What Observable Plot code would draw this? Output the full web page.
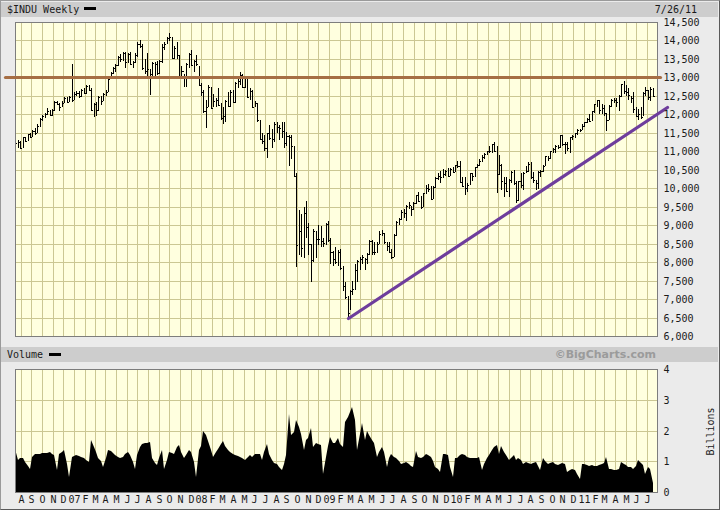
<!DOCTYPE html>
<html><head><meta charset="utf-8">
<script src="https://cdn.jsdelivr.net/npm/d3@7"></script>
<script src="https://cdn.jsdelivr.net/npm/@observablehq/plot@0.6"></script>
<style>
body{margin:0;background:#ebebeb;}
#wrap{position:relative;width:720px;height:510px;background:#ebebeb;overflow:hidden;font-family:"DejaVu Sans Mono",monospace;font-size:10px;color:#1a1a1a;}
.bar{position:absolute;left:1px;width:717px;height:15px;background:#cdcdcd;}
.t{position:absolute;line-height:15px;white-space:nowrap;}
.sw{position:absolute;width:12px;height:3px;background:#000;}
#price,#volume{position:absolute;left:0;}
#price{top:0}
#volume{top:360px}
#border{position:absolute;left:0;top:0;width:720px;height:510px;box-sizing:border-box;border:1px solid #9a9a9a;border-right-color:#5a5a5a;border-bottom-color:#5a5a5a;pointer-events:none;}
</style></head>
<body><div id="wrap">
 <div class="bar" style="top:2px"></div>
 <div class="t" style="top:2px;left:7px">$INDU Weekly</div>
 <div class="sw" style="top:7px;left:84px"></div>
 <div class="t" style="top:2px;right:23px">7/26/11</div>
 <div class="bar" style="top:347px"></div>
 <div class="t" style="top:347px;left:7px">Volume</div>
 <div class="sw" style="top:353px;left:49px"></div>
 <div class="t" style="top:347px;right:64px;font-family:'DejaVu Sans',sans-serif;font-weight:bold;color:#9b9b9b;font-size:11px">©BigCharts.com</div>
 <div id="price"></div><div id="volume"></div>
 <div class="t" style="top:424px;left:681px;width:58px;text-align:center;transform:rotate(-90deg)">Billions</div>
 <div id="border"></div>
</div>
<script>
// ---- data ----
const firstWeek = "2006-07-17"; // weekly bars, one per week
const highs = [
 11250,11300,11270,11400,11400,11480,11500,11580,11630,11730,11900,11990,12050,12170,12130,12150,12360,12350,12310,12350,12470,12480,12510,
 13350,12600,12620,12630,12680,12700,12790,12800,12700,12320,12330,12500,12500,12580,12650,12980,13150,13290,13350,13570,13630,13700,13700,13660,13700,13450,13650,13950,14020,13900,13500,13660,13240,13420,13420,13450,13480,13900,13950,14100,14200,14100,13850,13950,13600,13300,13100,13400,13650,13750,13480,13600,
 13300,12850,12650,12400,12800,12750,12550,12450,12700,12300,12200,12400,12600,12650,12650,12870,12950,13140,13080,13030,13030,12700,12660,12350,12300,11850,11500,11450,11500,11700,11600,11780,11800,11700,11800,11800,11530,11450,11450,11150,10400,9400,9300,9500,9650,9050,8500,8900,8850,9000,8980,8650,
 9050,9100,8650,8300,8400,8330,8350,7900,7450,7080,7250,7500,7950,8050,8150,8200,8100,8250,8600,8600,8550,8550,8850,8880,8800,8550,8550,8350,8760,9100,9200,9400,9440,9550,9620,9520,9640,9830,9900,9800,9880,10100,10120,10050,10060,10300,10420,10480,10520,10500,10550,10550,10580,
 10640,10730,10730,10300,10300,10150,10410,10420,10580,10650,10800,10900,10950,11010,11150,11210,11260,11150,10900,10650,10300,10300,10250,10480,10500,10200,10200,10400,10440,10600,10720,10700,10450,10230,10460,10500,10620,10870,10880,11020,11100,11160,11180,11450,11450,11250,11250,11400,11450,11500,11600,11600,
 11750,11800,11900,12020,12100,12280,12400,12380,12280,12250,12050,12250,12420,12450,12450,12520,12820,12900,12800,12700,12500,12600,12200,12150,12200,12600,12750,12650,12750,12700
];
const lows = [
 10860,11100,11050,11080,11250,11280,11350,11380,11450,11500,11650,11830,11900,11990,11950,11950,12100,12250,12080,12200,12300,12310,12340,
 12340,12400,12500,12430,12480,12560,12550,12620,12080,11930,11950,12100,12250,12350,12500,12600,12950,13100,13150,13300,13430,13450,13250,13400,13350,13250,13400,13550,13800,13200,13100,12980,12520,13000,13000,13060,13100,13400,13750,13900,13990,13500,13500,13500,13000,12950,12750,12750,13250,13300,13150,13300,
 12780,12500,12050,11630,12200,12150,12200,12200,12250,11850,11740,11800,12200,12200,12300,12300,12700,12800,12750,12700,12450,12400,12180,12200,11800,11330,11200,11000,10830,11300,11100,11250,11500,11300,11350,11100,11150,10600,10800,10300,7880,8200,8150,8100,8650,8200,7450,8000,8100,8450,8400,8400,
 8450,8550,7950,7900,7950,7900,7800,7230,7000,6470,6700,7120,7250,7450,7800,7950,7800,7950,8200,8200,8200,8250,8500,8700,8500,8300,8250,8080,8140,8700,9000,9150,9200,9100,9450,9250,9400,9570,9650,9430,9480,9850,9900,9700,9700,10000,10230,10150,10280,10320,10300,10320,10420,
 10430,10560,10150,10050,9830,9900,10080,10200,10300,10540,10600,10700,10800,10900,10950,10950,11000,9870,10350,9950,9770,9900,9750,10150,10100,9610,9650,10000,9950,10400,10450,10250,10150,9940,9980,10300,10450,10600,10750,10780,10950,10950,11050,11100,11150,10930,11000,10950,11300,11350,11450,11520,
 11570,11650,11770,11800,11820,12050,12200,12000,12000,11950,11550,11850,12200,12300,12200,12100,12480,12550,12500,12400,12300,12050,11950,11860,11870,11950,12500,12400,12350,12480
];
const closes = [
 11219,11240,11088,11381,11284,11464,11392,11560,11508,11679,11866,11961,12002,12090,11986,12108,12342,12280,12194,12307,12445,12343,12463,
 12398,12556,12565,12487,12653,12580,12767,12647,12114,12276,12110,12481,12354,12560,12612,12962,13120,13264,13326,13556,13507,13668,13424,13639,13360,13409,13612,13908,13851,13265,13182,13240,13079,13379,13358,13113,13442,13821,13896,14066,14093,13522,13807,13595,13043,13177,12981,13372,13625,13339,13450,13366,
 12800,12606,12099,12207,12743,12182,12348,12381,12266,11894,11951,12361,12216,12609,12325,12849,12891,13058,12745,12986,12480,12638,12209,12307,11843,11346,11288,11100,11496,11370,11326,11734,11659,11628,11543,11220,11421,11388,11143,10325,8451,8852,8378,9325,8943,8497,8046,8829,8635,8629,8579,8515,
 9034,8599,8281,8077,8000,8280,7850,7366,7063,6627,7224,7279,7776,8018,8083,8131,8076,8212,8575,8268,8277,8500,8764,8799,8539,8438,8280,8146,8743,9093,9172,9370,9321,9506,9544,9441,9606,9820,9665,9488,9865,9996,9972,9713,10023,10270,10319,10310,10389,10471,10329,10520,10428,
 10618,10610,10172,10067,10012,10099,10402,10325,10567,10625,10742,10851,10927,10997,11018,11204,11009,10380,10620,10193,10137,9932,10212,10450,10144,9686,10198,10098,10424,10466,10653,10303,10213,10150,10448,10463,10608,10860,10830,11006,11062,11133,11118,11444,11192,11203,11092,11382,11410,11491,11573,11577,
 11674,11787,11871,11823,12092,12273,12391,12130,12170,12044,11859,12221,12377,12380,12342,12505,12810,12638,12596,12512,12441,12151,11952,12004,11934,12582,12657,12480,12681,12501
];
const volumes = [ // billions
 1.41,1.05,1.12,1.10,0.98,0.85,0.76,1.15,1.22,1.25,
 1.24,1.27,1.28,1.26,1.30,1.22,1.20,0.71,1.25,1.30,
 1.36,0.92,0.49,1.14,1.18,1.20,1.16,1.14,1.12,1.05,
 0.98,1.70,1.47,1.30,1.09,1.00,0.82,1.10,1.36,1.32,
 1.28,1.20,1.15,1.09,1.15,1.25,1.30,1.20,0.98,0.76,
 1.20,1.47,1.55,1.58,1.60,1.61,1.09,0.95,0.87,1.10,
 1.36,0.76,1.05,1.30,1.28,1.25,1.45,1.52,1.30,1.09,
 1.20,1.36,1.30,0.98,0.49,1.36,1.50,2.00,1.85,1.67,
 1.35,1.14,1.30,1.41,1.55,1.67,1.50,1.36,1.30,1.25,
 1.20,1.18,1.14,1.10,1.03,1.10,1.20,1.15,1.22,1.25,
 1.25,1.03,1.30,1.55,1.25,1.03,0.95,0.92,0.80,0.71,
 0.90,1.20,2.55,1.85,1.95,2.34,2.10,1.90,1.36,1.68,
 1.75,2.07,1.45,1.58,1.55,1.52,0.60,1.14,1.50,1.79,
 1.60,1.58,1.74,1.55,1.47,2.28,2.45,2.60,2.77,2.34,
 1.36,1.90,2.23,1.68,2.00,1.85,1.68,1.58,1.14,1.30,
 1.47,1.30,0.82,1.10,1.25,1.15,1.09,1.00,0.92,0.95,
 0.98,0.90,0.85,0.82,1.33,1.15,1.09,1.15,1.25,1.20,
 1.14,1.00,0.82,0.75,0.65,1.25,1.22,1.20,0.82,0.49,
 1.09,1.10,1.20,1.25,1.20,1.14,1.10,1.09,1.10,1.12,
 1.14,0.71,0.90,1.09,1.20,1.36,1.45,1.52,1.25,1.49,
 1.30,1.20,1.03,1.10,1.20,1.03,1.09,1.05,0.92,0.98,
 0.95,0.92,0.95,0.98,0.85,0.71,1.09,1.00,0.92,0.95,
 0.98,0.92,0.87,0.90,0.95,0.90,0.65,0.72,0.76,0.70,
 0.60,0.43,0.92,0.90,0.87,0.85,0.87,0.84,0.85,0.87,
 0.90,0.95,1.14,0.76,0.74,0.71,0.73,0.76,0.98,0.90,
 0.87,0.82,0.80,0.76,0.85,1.03,0.95,0.87,0.60,0.82,
 0.75,0.30
];
const monthLabels = [
 "A","S","O","N","D",
 "07","F","M","A","M","J","J","A","S","O","N","D",
 "08","F","M","A","M","J","J","A","S","O","N","D",
 "09","F","M","A","M","J","J","A","S","O","N","D",
 "10","F","M","A","M","J","J","A","S","O","N","D",
 "11","F","M","A","M","J","J"
];
const priceTicks = [6000,6500,7000,7500,8000,8500,9000,9500,10000,10500,11000,11500,12000,12500,13000,13500,14000,14500];
const volumeTicks = [0,1,2,3,4];
const resistanceDates = ["2006-06-17","2011-08-07"];
const resistanceValues = [13000,13000];
const trendDates = ["2009-02-23","2011-08-28"];
const trendValues = [6500,12200];
const xStart = "2006-07-16", xEnd = "2011-07-30";

// ---- build ----
const parse = d3.utcParse("%Y-%m-%d");
const start = parse(firstWeek);
const bars = highs.map((h, i) => ({date: d3.utcWeek.offset(start, i), high: h, low: lows[i], close: closes[i], volume: volumes[i]}));
const months = d3.utcMonth.range(parse("2006-08-01"), parse("2011-07-02"));
const labelByMonth = new Map(months.map((m, i) => [+m, monthLabels[i]]));
const resistance = resistanceDates.map((d, i) => ({date: parse(d), value: resistanceValues[i]}));
const trend = trendDates.map((d, i) => ({date: parse(d), value: trendValues[i]}));
const xDomain = [parse(xStart), parse(xEnd)];

const plotBg = "#ffffdf", gridColor = "#cbc793", frameColor = "#7d7d7d";
const common = {
  width: 720, marginLeft: 15, marginRight: 63,
  style: {background: "transparent", fontFamily: "DejaVu Sans Mono, monospace", fontSize: "10px", color: "#1a1a1a", overflow: "visible"}
};

const price = Plot.plot({
  ...common, height: 345, marginTop: 22, marginBottom: 9,
  x: {type: "utc", domain: xDomain, round: true, axis: null},
  y: {domain: [6000, 14500], round: true},
  marks: [
    Plot.frame({fill: plotBg, stroke: null}),
    Plot.ruleY(priceTicks, {stroke: gridColor}),
    Plot.ruleX(months, {stroke: gridColor}),
    Plot.ruleX(bars, {x: "date", y1: "low", y2: "high", stroke: "#000"}),
    Plot.ruleY(bars, {x1: "date", x2: d => d3.utcDay.offset(d.date, 6), y: "close", stroke: "#000"}),
    Plot.frame({stroke: frameColor}),
    Plot.line(resistance, {x: "date", y: "value", stroke: "#a66e44", strokeWidth: 3.2}),
    Plot.line(trend, {x: "date", y: "value", stroke: "#6e3d9c", strokeWidth: 3.2}),
    Plot.axisY(priceTicks, {anchor: "right", tickSize: 0, tickPadding: 6, tickFormat: d3.format(","), label: null})
  ]
});
document.getElementById("price").append(price);

const volume = Plot.plot({
  ...common, height: 150, marginTop: 9, marginBottom: 18,
  x: {type: "utc", domain: xDomain, round: true, axis: null},
  y: {domain: [0, 4], round: true},
  marks: [
    Plot.frame({fill: plotBg, stroke: null}),
    Plot.ruleY(volumeTicks, {stroke: gridColor}),
    Plot.ruleX(months, {stroke: gridColor}),
    Plot.areaY(bars, {x: "date", y: "volume", fill: "#000"}),
    Plot.frame({stroke: frameColor}),
    Plot.axisY(volumeTicks, {anchor: "right", tickSize: 0, tickPadding: 6, label: null}),
    Plot.axisX(months, {anchor: "bottom", tickSize: 0, tickPadding: 3, tickFormat: d => labelByMonth.get(+d), label: null})
  ]
});
document.getElementById("volume").append(volume);
</script>
</body></html>
